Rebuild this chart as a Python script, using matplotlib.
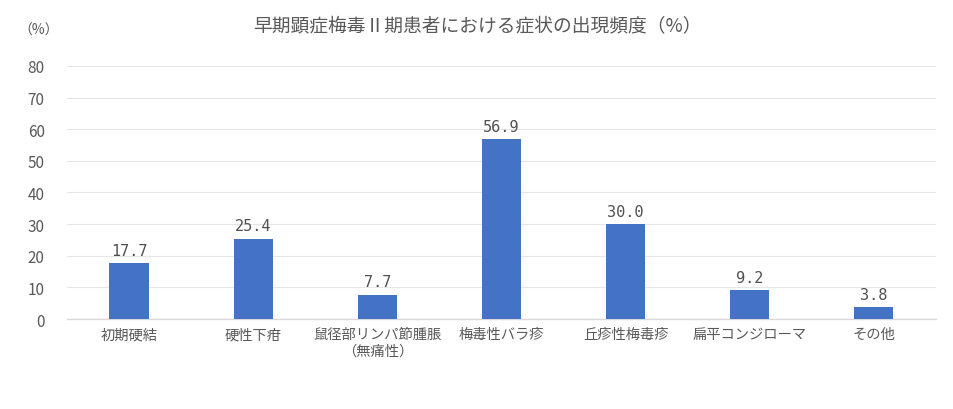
import matplotlib
matplotlib.use("Agg")
import matplotlib.pyplot as plt

plt.rcParams['font.family'] = ['Noto Sans CJK JP', 'DejaVu Sans']

categories = ["初期硬結", "硬性下疳", "鼠径部リンパ節腫脹\n（無痛性）", "梅毒性バラ疹",
              "丘疹性梅毒疹", "扁平コンジローマ", "その他"]
values = [17.7, 25.4, 7.7, 56.9, 30.0, 9.2, 3.8]
yticks = [0, 10, 20, 30, 40, 50, 60, 70, 80]
title = "早期顕症梅毒Ⅱ期患者における症状の出現頻度（%）"

fig = plt.figure(figsize=(9.54, 4.10), dpi=100)
ax = fig.add_axes([0.0702, 0.2195, 0.9108, 0.6171])

x = list(range(len(categories)))
bars = ax.bar(x, values, width=0.315, color="#4472C4", zorder=3)
for xi, v in zip(x, values):
    ax.text(xi, v + 1.7, f"{v:.1f}", ha="center", va="bottom", fontsize=11,
            color="#505050", family=["DejaVu Sans Mono"])

ax.set_xlim(-0.5, len(categories) - 0.5)
ax.set_ylim(0, 80)
ax.set_yticks(yticks)
ax.set_yticklabels([str(t) for t in yticks], fontsize=11, color="#595959")
ax.set_xticks(x)
ax.set_xticklabels(categories, fontsize=10.3, color="#595959", linespacing=1.25)
ax.tick_params(axis="both", length=0)
ax.tick_params(axis="y", pad=16)
ax.tick_params(axis="x", pad=6)
ax.yaxis.grid(True, color="#E6E6E6", linewidth=0.8, zorder=0)
for s in ["top", "right", "left"]:
    ax.spines[s].set_visible(False)
ax.spines["bottom"].set_color("#D9D9D9")
ax.spines["bottom"].set_linewidth(1.0)

fig.text(0.5, 0.935, title, ha="center", va="center", fontsize=13.5, color="#595959")
fig.text(0.04, 0.925, "（%）", ha="center", va="center", fontsize=10, color="#595959")

fig.savefig("out.png", dpi=100, facecolor="white")
